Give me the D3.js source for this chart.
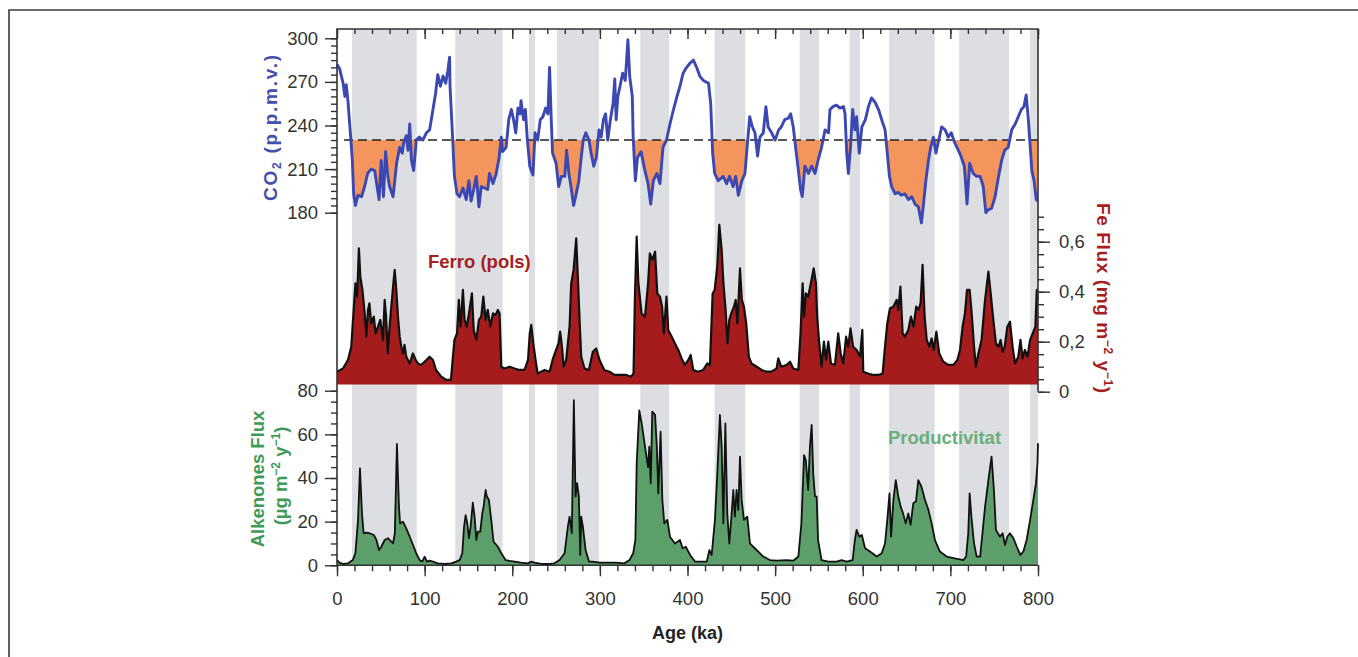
<!DOCTYPE html>
<html>
<head>
<meta charset="utf-8">
<script src="https://cdn.jsdelivr.net/npm/d3@7"></script>
<style>
  html, body { margin: 0; padding: 0; background: #fff; }
  svg { display: block; font-family: "Liberation Sans", Arial, Helvetica, sans-serif; }
</style>
</head>
<body>
<div id="chart"></div>
<script>
// períodes glacials (ka) - franges grises
var glacialBands = [[17, 91], [135, 189], [219, 226], [251, 299], [346, 379], [431, 466],
                    [528, 550], [585, 597], [630, 682], [710, 767], [791, 800]];

// CO2 (p.p.m.v.) segons l'edat (ka)
var co2Data = [
  [0, 282], [3, 279], [7, 269], [9, 260], [10.6, 268], [12.5, 257], [15, 237], [17.5, 216], [19, 193],
  [21, 185], [24, 192], [28, 191], [31.5, 198], [35, 207], [39, 210], [43, 209], [45, 201], [48, 189],
  [50.5, 216], [53, 191], [55.5, 222], [58, 205], [60, 198], [64, 191], [68, 214], [71.5, 225],
  [74.5, 221], [76, 228], [79, 233], [81, 223], [83, 241], [85, 216], [87.5, 209], [90.5, 230],
  [94, 232], [98, 230], [102, 235], [105.7, 237], [109.5, 251], [112.5, 262], [115, 275], [118, 267],
  [121, 274], [124, 269], [126.6, 278], [128.5, 287], [129, 267], [131.5, 237], [134, 205], [137, 193],
  [140, 191], [143.7, 197], [147.5, 189], [150.5, 202], [153, 188], [156, 196], [159, 205], [162, 184],
  [164.6, 198], [168.4, 197], [172, 196], [174, 207], [178, 200], [181.7, 207], [185, 218], [187.5, 232],
  [189, 222], [193, 225], [196, 244], [199, 251], [201.5, 244], [204, 235], [206.5, 252], [209, 248],
  [210, 257], [213, 244], [215, 251], [217, 232], [220, 212], [223.6, 206], [226, 235], [229, 230],
  [232, 244], [235, 246], [238, 252], [240.7, 248], [242.6, 280], [244.5, 244], [246, 221], [250, 214],
  [253, 198], [256, 205], [260, 205], [262, 223], [264.6, 207], [267, 198], [270, 185], [273, 193],
  [276, 202], [278.7, 218], [281, 230], [284, 235], [287.5, 230], [290, 221], [293, 212], [296, 218],
  [299, 237], [301.5, 232], [304, 244], [306.5, 248], [309, 230], [312, 244], [315, 255], [317, 272],
  [318.6, 244], [320.5, 260], [323, 267], [326, 276], [329, 271], [332, 299], [334, 274], [337, 260],
  [338, 232], [340.5, 202], [343, 218], [347, 222], [351, 210], [355, 200], [358, 186], [361, 202],
  [365, 207], [368.6, 200], [372, 225], [376, 230], [380, 241], [384, 251], [388, 260], [391.4, 267],
  [395, 276], [399, 280], [403, 283], [406.7, 285], [410.4, 280], [414, 274], [418, 271], [424, 269],
  [426.5, 255], [428.7, 221], [431, 207], [435, 202], [440.8, 205], [444.6, 200], [448, 205], [452, 198],
  [455, 205], [458, 192], [462, 202], [465.6, 207], [468, 225], [471, 246], [474, 239], [477, 235],
  [480, 219], [482.7, 232], [486.5, 235], [489.5, 253], [492, 239], [496, 235], [500, 230], [504, 237],
  [507, 239], [511, 244], [515, 245], [517.7, 248], [520.7, 239], [523.7, 223], [526, 212], [529, 196],
  [531, 191], [534, 212], [538, 207], [541.7, 212], [545.5, 207], [549, 216], [553, 225], [557, 237],
  [561, 235], [562.6, 251], [566, 253], [570, 254], [574, 252], [578, 253], [579.8, 248], [581.7, 221],
  [583.6, 207], [586, 225], [588.5, 251], [591, 237], [593, 246], [596, 221], [599, 239], [603, 244],
  [606.5, 253], [610, 259], [614, 256], [618, 251], [621.6, 244], [625.5, 237], [628, 221], [630.5, 205],
  [633, 198], [637, 193], [640.5, 194], [644, 192], [648, 193], [652, 189], [656, 191], [659.6, 186],
  [663.5, 184], [667, 173], [669, 184], [672, 202], [675, 216], [677.5, 225], [680.6, 232], [683.5, 221],
  [686, 228], [690, 239], [694, 237], [697.5, 232], [701, 235], [705, 228], [709, 223], [712, 219],
  [716, 212], [719, 186], [722, 214], [726, 207], [730, 205], [734, 205], [737.5, 198], [740.5, 180],
  [743, 182], [747, 183], [751, 191], [755, 205], [758.5, 216], [762, 223], [766, 225], [770, 237],
  [774, 241], [777.5, 246], [781, 251], [784, 253], [786.5, 261], [789, 244], [793, 209], [795.5, 202],
  [798, 189], [799.5, 188]
];
var co2Threshold = 230;

// flux de ferro (mg m-2 y-1)
var feData = [
  [0, 0.08], [6.8, 0.093], [12.5, 0.127], [16.3, 0.18], [19, 0.327], [21, 0.433], [23, 0.38], [25, 0.573],
  [26.6, 0.46], [29, 0.407], [31.6, 0.313], [33.5, 0.22], [35.4, 0.327], [37, 0.353], [39, 0.273], [42, 0.3],
  [44, 0.233], [46.8, 0.26], [49.4, 0.287], [52.5, 0.207], [54.4, 0.367], [56, 0.3], [58, 0.153], [60, 0.26],
  [62, 0.34], [64, 0.42], [65.8, 0.487], [67.7, 0.407], [69.6, 0.3], [71.5, 0.22], [73.4, 0.18], [75.3, 0.153],
  [77, 0.187], [79, 0.14], [83, 0.113], [86.7, 0.153], [89.7, 0.127], [92.4, 0.113], [96, 0.107], [102, 0.127],
  [105.7, 0.14], [109.5, 0.127], [113, 0.087], [119, 0.06], [124.7, 0.047], [130, 0.047], [134, 0.207],
  [137, 0.233], [139, 0.367], [141, 0.26], [143.7, 0.407], [145.6, 0.287], [148, 0.26], [150.6, 0.313],
  [154, 0.393], [156, 0.247], [159, 0.207], [162, 0.287], [164.6, 0.3], [167, 0.38], [169.6, 0.287],
  [172, 0.327], [175, 0.26], [178, 0.313], [181, 0.307], [183.6, 0.327], [185.5, 0.313], [187.5, 0.1],
  [191, 0.093], [197, 0.1], [202.7, 0.093], [208, 0.087], [214, 0.087], [218, 0.127], [220, 0.233],
  [221.7, 0.267], [224, 0.193], [226.6, 0.127], [229, 0.073], [233, 0.08], [237, 0.087], [242.6, 0.08],
  [246, 0.127], [250, 0.167], [252.8, 0.193], [254.7, 0.24], [256.7, 0.18], [258.6, 0.1], [261.6, 0.127],
  [265.4, 0.26], [267.3, 0.433], [270, 0.487], [273, 0.613], [275, 0.447], [277, 0.273], [278.7, 0.14],
  [282.5, 0.093], [287.5, 0.087], [292, 0.16], [295.8, 0.173], [299.6, 0.127], [305, 0.087], [311, 0.08],
  [316.7, 0.067], [322.4, 0.067], [330, 0.067], [335.7, 0.06], [338.4, 0.073], [340, 0.38], [342, 0.62],
  [344, 0.433], [347.6, 0.313], [351.5, 0.3], [355, 0.433], [357, 0.553], [360, 0.527], [363, 0.56],
  [365.5, 0.393], [368.6, 0.38], [371, 0.34], [373, 0.233], [376, 0.38], [378, 0.247], [382, 0.22],
  [385.7, 0.193], [389.5, 0.167], [393.3, 0.133], [397, 0.107], [401, 0.127], [403.6, 0.147], [406.6, 0.087],
  [412, 0.08], [418, 0.087], [422.6, 0.113], [425.6, 0.107], [428.7, 0.393], [431, 0.407], [434, 0.5],
  [436.3, 0.667], [439, 0.567], [441, 0.433], [443.5, 0.327], [445.6, 0.193], [447.7, 0.287], [450, 0.313],
  [453, 0.34], [455, 0.367], [457, 0.273], [459.9, 0.493], [462, 0.367], [464.4, 0.34], [467, 0.273],
  [470, 0.14], [473, 0.113], [479, 0.1], [484.6, 0.087], [490, 0.08], [496, 0.08], [501.7, 0.093],
  [503.6, 0.133], [507, 0.1], [513, 0.107], [517, 0.12], [520.7, 0.093], [526.5, 0.087], [529, 0.233],
  [531.4, 0.433], [533, 0.3], [535, 0.393], [537.7, 0.38], [541.5, 0.447], [544, 0.493], [546.6, 0.433],
  [548, 0.3], [550, 0.207], [553, 0.1], [555.7, 0.2], [558, 0.127], [560.7, 0.2], [563.7, 0.113],
  [568.3, 0.107], [572, 0.233], [574.8, 0.153], [577.8, 0.113], [581, 0.22], [583.5, 0.18], [586, 0.253],
  [589, 0.18], [593, 0.167], [597, 0.14], [599.5, 0.247], [600.6, 0.08], [606, 0.073], [612, 0.067],
  [617.7, 0.067], [622.7, 0.073], [625.4, 0.18], [628, 0.273], [631, 0.333], [634.8, 0.34], [638.7, 0.367],
  [640.6, 0.327], [643, 0.42], [645.5, 0.233], [648, 0.22], [652, 0.247], [655, 0.3], [658, 0.26],
  [661, 0.34], [663.7, 0.327], [666, 0.353], [668.3, 0.507], [670.6, 0.3], [673, 0.207], [676, 0.18],
  [678.6, 0.213], [681, 0.167], [684, 0.24], [687.3, 0.153], [691.9, 0.12], [697.6, 0.107], [703.3, 0.107],
  [708, 0.127], [711, 0.167], [714, 0.26], [716.6, 0.313], [719, 0.407], [722, 0.407], [724, 0.327],
  [727, 0.18], [729, 0.1], [732, 0.153], [735.6, 0.207], [739.6, 0.367], [743.4, 0.48], [746, 0.393],
  [749, 0.287], [752, 0.193], [755, 0.18], [757.3, 0.207], [759.6, 0.16], [762, 0.18], [765, 0.26],
  [768, 0.28], [771, 0.18], [773.8, 0.113], [777.5, 0.14], [780, 0.207], [782.4, 0.133], [785, 0.167],
  [788, 0.14], [791, 0.207], [794, 0.233], [797, 0.26], [798.6, 0.407], [800, 0.367]
];

// flux d'alquenones (ug m-2 y-1)
var alkData = [
  [0, 2.4], [3, 1.2], [7, 0.6], [12.5, 0.9], [18, 2.4], [21, 5.5], [24, 20.8], [26.2, 44.4], [28.5, 23.8],
  [30.4, 14.7], [33.5, 15], [37, 14.7], [42, 13.9], [45, 11.6], [48, 7], [50.6, 8.5], [54.4, 11.6],
  [58, 12.4], [62, 10.8], [64, 10], [66, 14.7], [68.4, 55.6], [70.7, 26.9], [72, 19.2], [75.3, 20],
  [79, 16.9], [83, 13.1], [86.7, 9.3], [90.5, 5.5], [94.3, 2.4], [97.3, 1.7], [100, 4], [102.7, 1.7],
  [105.7, 2.1], [109.5, 1.7], [115, 0.9], [122.8, 0.6], [130.4, 0.9], [136, 1.7], [140, 2.4], [143, 5.5],
  [145, 17.7], [146.8, 23], [148.7, 19.2], [150.6, 12.4], [152.5, 17.7], [155, 28.7], [157, 22.3],
  [159, 11.6], [160.8, 15.4], [163.5, 15.4], [165.8, 23.8], [167.3, 26.9], [169.6, 34.5], [171, 31.5],
  [173.4, 29.9], [176, 20.8], [178.7, 10.8], [183.6, 8.5], [187.5, 5.5], [192.4, 2.4], [197, 2],
  [202.7, 1.7], [210, 1.2], [218, 0.9], [221.7, 1.7], [225.5, 1.2], [233, 0.6], [242.6, 0.6], [248, 0.9],
  [254, 2.4], [259.7, 5.5], [263.5, 17.7], [265.4, 22.3], [268, 14.7], [270.3, 75.7], [272.2, 31.5],
  [274, 37.6], [276, 31.5], [277.6, 4.7], [278.7, 22.3], [280.6, 17.7], [283.7, 7], [287.5, 1.7],
  [292, 1.7], [299.6, 1.2], [309, 1.2], [318.6, 1.2], [328, 0.9], [333.8, 2.4], [338, 5.5], [340.5, 11.6],
  [342, 46.7], [345, 71], [347.7, 65], [351.5, 54.4], [355, 45], [356.4, 54.4], [358, 37.6], [359.8, 70.4],
  [363, 68.9], [365, 54.4], [366.7, 33], [369.3, 61.2], [371.3, 30], [373.5, 19.2], [377, 20.8],
  [380, 13.1], [385.7, 10], [391.4, 11.6], [394.4, 7.8], [398, 8.5], [403, 4.7], [408.5, 1.7], [416, 1.7],
  [422, 1.7], [425, 7], [427.6, 4.7], [431.3, 20.8], [434, 42], [437, 68.9], [439, 54.4], [440.9, 19.2],
  [443.2, 65], [445.4, 23.8], [447.7, 10], [450.4, 23.8], [452.3, 34.5], [454, 22.3], [456, 34.5],
  [458, 25.3], [459.9, 49.8], [461.8, 30], [464.4, 20.8], [468.2, 22.3], [471.3, 10], [475, 8.5],
  [480.8, 6.3], [486.5, 4], [494, 2.4], [501.7, 2.1], [513, 2.4], [520.7, 2.1], [526.5, 4], [530, 19.2],
  [533, 50.5], [535, 48.2], [537.7, 34.5], [539.7, 54.4], [541.7, 64.3], [543.5, 42], [545.5, 31.5],
  [547.4, 31.5], [549, 11.6], [553, 2.4], [560.7, 1.7], [570, 1.7], [575.9, 2.4], [581.6, 1.7],
  [588.5, 2.4], [591, 11.6], [593, 16.2], [596, 13.1], [599, 13.9], [602.6, 7.8], [608.3, 6.3], [616, 4],
  [621.6, 5.5], [625.4, 10], [628, 20.8], [630.5, 33], [632.3, 13.1], [635, 30], [637.7, 39], [640.6, 31.5],
  [643.3, 26.9], [646, 23.8], [649, 19.2], [652, 23.8], [654.6, 18.5], [657.7, 28.4], [660.7, 29.2],
  [663.4, 39], [667, 36], [671, 30], [675, 25.3], [678.6, 19.2], [682.4, 11.6], [688, 6.3], [695.7, 4],
  [705, 3.2], [714.8, 2.4], [718, 4], [720.4, 14.7], [722, 33], [724, 22.3], [727, 10], [730, 4], [734, 4],
  [739.6, 26.9], [743.4, 39], [747, 49.8], [749.7, 34.5], [752, 16.2], [756.6, 13.1], [759.6, 14.7],
  [762.3, 9.3], [765, 13.1], [768, 14.7], [772, 12.4], [775.8, 8.5], [780, 4.7], [783.3, 6.3], [787, 11.6],
  [791, 20.8], [794.7, 30], [797.7, 37.6], [799.4, 46.7], [800, 55.9]
];

// valors dels eixos
var ageTicks = [0, 100, 200, 300, 400, 500, 600, 700, 800];
var co2Ticks = [180, 210, 240, 270, 300];
var feTicks = [0, 0.2, 0.4, 0.6];
var alkTicks = [0, 20, 40, 60, 80];

var width = 1358, height = 657;
var FONT_COLOR = '#333';

var svg = d3.select('#chart')
            .append('svg')
            .attr('width', width)
            .attr('height', height)
            .attr('viewBox', '0 0 ' + width + ' ' + height);

// marc de la pàgina
svg.append('path')
   .attr('d', 'M9,' + height + 'V10H' + width)
   .attr('fill', 'none')
   .attr('stroke', '#3a3a3a')
   .attr('stroke-width', 1.6);

// escales
var plotLeft = 337, plotRight = 1038, plotTop = 29, plotBottom = 565.3;
var x = d3.scaleLinear().domain([0, 800]).range([plotLeft, plotRight]);
var yCO2 = d3.scaleLinear().domain([180, 300]).range([212.7, 38.3]);
var yFe = d3.scaleLinear().domain([0, 0.7]).range([391.7, 216.7]);
var yAlk = d3.scaleLinear().domain([0, 80]).range([plotBottom, 390.7]);
var feBase = 384.5;

// franges glacials
svg.append('g')
   .selectAll('rect')
   .data(glacialBands)
   .enter()
   .append('rect')
   .attr('x', function(d){ return x(d[0]); })
   .attr('width', function(d){ return x(d[1]) - x(d[0]); })
   .attr('y', plotTop)
   .attr('height', plotBottom - plotTop)
   .attr('fill', '#dcdee1');

// CO2: ombrejat taronja per sota del llindar
svg.append('clipPath')
   .attr('id', 'below-threshold')
   .append('rect')
   .attr('x', plotLeft)
   .attr('y', yCO2(co2Threshold))
   .attr('width', plotRight - plotLeft)
   .attr('height', 100);

svg.append('path')
   .datum(co2Data)
   .attr('clip-path', 'url(#below-threshold)')
   .attr('fill', '#f5955e')
   .attr('d', d3.area()
                .x(function(d){ return x(d[0]); })
                .y0(yCO2(co2Threshold))
                .y1(function(d){ return yCO2(d[1]); }));

svg.append('line')
   .attr('x1', x(8)).attr('x2', x(800))
   .attr('y1', yCO2(co2Threshold)).attr('y2', yCO2(co2Threshold))
   .attr('stroke', '#222')
   .attr('stroke-width', 1.5)
   .attr('stroke-dasharray', '9,5');

svg.append('path')
   .datum(co2Data)
   .attr('fill', 'none')
   .attr('stroke', '#3c48b2')
   .attr('stroke-width', 2.9)
   .attr('stroke-linejoin', 'round')
   .attr('d', d3.line()
                .x(function(d){ return x(d[0]); })
                .y(function(d){ return yCO2(d[1]); }));

// ferro
svg.append('path')
   .datum(feData)
   .attr('fill', '#a61c1c')
   .attr('d', d3.area()
                .x(function(d){ return x(d[0]); })
                .y0(feBase)
                .y1(function(d){ return yFe(d[1]); }));

svg.append('path')
   .datum(feData)
   .attr('fill', 'none')
   .attr('stroke', '#111')
   .attr('stroke-width', 2.2)
   .attr('stroke-linejoin', 'round')
   .attr('d', d3.line()
                .x(function(d){ return x(d[0]); })
                .y(function(d){ return yFe(d[1]); }));

// alquenones
svg.append('path')
   .datum(alkData)
   .attr('fill', '#5c9f6a')
   .attr('d', d3.area()
                .x(function(d){ return x(d[0]); })
                .y0(plotBottom)
                .y1(function(d){ return yAlk(d[1]); }));

svg.append('path')
   .datum(alkData)
   .attr('fill', 'none')
   .attr('stroke', '#111')
   .attr('stroke-width', 1.8)
   .attr('stroke-linejoin', 'round')
   .attr('d', d3.line()
                .x(function(d){ return x(d[0]); })
                .y(function(d){ return yAlk(d[1]); }));

// eixos
function styleAxis(g, fontSize){
    g.select('.domain').remove();
    g.selectAll('line').attr('stroke', '#333').attr('stroke-width', 1.4);
    g.selectAll('text').attr('fill', FONT_COLOR).style('font-size', fontSize + 'px').attr('font-family', null);
}

function minor(lo, hi, step){
    return d3.range(lo, hi + step / 2, step);
}

// eix inferior
svg.append('g').attr('transform', 'translate(0,' + plotBottom + ')')
   .call(d3.axisBottom(x).tickValues(minor(0, 800, 20)).tickSize(6).tickFormat(''))
   .call(styleAxis, 18);
svg.append('g').attr('transform', 'translate(0,' + plotBottom + ')')
   .call(d3.axisBottom(x).tickValues(ageTicks).tickSize(11).tickPadding(16).tickFormat(d3.format('d')))
   .call(styleAxis, 18.5);

// eix superior (marques cap endins)
svg.append('g').attr('transform', 'translate(0,' + plotTop + ')')
   .call(d3.axisBottom(x).tickValues(minor(0, 800, 20)).tickSize(5).tickFormat(''))
   .call(styleAxis, 18);
svg.append('g').attr('transform', 'translate(0,' + plotTop + ')')
   .call(d3.axisBottom(x).tickValues(ageTicks).tickSize(10).tickFormat(''))
   .call(styleAxis, 18);

// eix CO2
svg.append('g').attr('transform', 'translate(' + plotLeft + ',0)')
   .call(d3.axisLeft(yCO2).tickValues(minor(180, 300, 5)).tickSize(6).tickFormat(''))
   .call(styleAxis, 18);
svg.append('g').attr('transform', 'translate(' + plotLeft + ',0)')
   .call(d3.axisLeft(yCO2).tickValues(co2Ticks).tickSize(12).tickPadding(7).tickFormat(d3.format('d')))
   .call(styleAxis, 18.5);

// eix alquenones
svg.append('g').attr('transform', 'translate(' + plotLeft + ',0)')
   .call(d3.axisLeft(yAlk).tickValues(minor(0, 80, 5)).tickSize(6).tickFormat(''))
   .call(styleAxis, 18);
svg.append('g').attr('transform', 'translate(' + plotLeft + ',0)')
   .call(d3.axisLeft(yAlk).tickValues(alkTicks).tickSize(12).tickPadding(7).tickFormat(d3.format('d')))
   .call(styleAxis, 18.5);

// eix ferro (dreta)
svg.append('g').attr('transform', 'translate(' + plotRight + ',0)')
   .call(d3.axisRight(yFe).tickValues(minor(0, 0.7, 0.05)).tickSize(6).tickFormat(''))
   .call(styleAxis, 18);
svg.append('g').attr('transform', 'translate(' + plotRight + ',0)')
   .call(d3.axisRight(yFe).tickValues(feTicks).tickSize(12).tickPadding(9)
            .tickFormat(function(d){ return d === 0 ? '0' : d3.format('.1f')(d).replace('.', ','); }))
   .call(styleAxis, 18.5);

// línies del marc
svg.append('path')
   .attr('d', 'M' + plotLeft + ',' + plotBottom + 'V' + plotTop + 'H' + plotRight + 'V' + yFe(0))
   .attr('fill', 'none')
   .attr('stroke', '#333')
   .attr('stroke-width', 1.6);
svg.append('line')
   .attr('x1', plotLeft).attr('x2', plotRight)
   .attr('y1', plotBottom).attr('y2', plotBottom)
   .attr('stroke', '#333')
   .attr('stroke-width', 1.6);

// títols dels eixos
var co2Label = svg.append('text')
   .attr('transform', 'translate(270,128) rotate(-90)')
   .attr('text-anchor', 'middle')
   .attr('dy', '0.35em')
   .attr('fill', '#4350ad')
   .attr('textLength', 146)
   .attr('lengthAdjust', 'spacing')
   .style('font-size', '19px')
   .style('font-weight', 'bold');
co2Label.append('tspan').text('CO');
co2Label.append('tspan').attr('dy', '4').style('font-size', '12px').text('2');
co2Label.append('tspan').attr('dy', '-4').text(' (p.p.m.v.)');

var feLabel = svg.append('text')
   .attr('transform', 'translate(1104,298) rotate(90)')
   .attr('text-anchor', 'middle')
   .attr('dy', '0.35em')
   .attr('fill', '#a51e22')
   .attr('textLength', 190)
   .attr('lengthAdjust', 'spacing')
   .style('font-size', '19px')
   .style('font-weight', 'bold');
feLabel.append('tspan').text('Fe Flux (mg m');
feLabel.append('tspan').attr('dy', '-7').style('font-size', '12px').text('\u22122');
feLabel.append('tspan').attr('dy', '7').text(' y');
feLabel.append('tspan').attr('dy', '-7').style('font-size', '12px').text('\u22121');
feLabel.append('tspan').attr('dy', '7').text(')');

svg.append('text')
   .attr('transform', 'translate(258,479) rotate(-90)')
   .attr('text-anchor', 'middle')
   .attr('dy', '0.35em')
   .attr('fill', '#3f9a57')
   .style('font-size', '18.5px')
   .style('font-weight', 'bold')
   .text('Alkenones Flux');

var alkUnits = svg.append('text')
   .attr('transform', 'translate(281,476) rotate(-90)')
   .attr('text-anchor', 'middle')
   .attr('dy', '0.35em')
   .attr('fill', '#3f9a57')
   .style('font-size', '18.5px')
   .style('font-weight', 'bold');
alkUnits.append('tspan').text('(\u00b5g m');
alkUnits.append('tspan').attr('dy', '-7').style('font-size', '12px').text('\u22122');
alkUnits.append('tspan').attr('dy', '7').text(' y');
alkUnits.append('tspan').attr('dy', '-7').style('font-size', '12px').text('\u22121');
alkUnits.append('tspan').attr('dy', '7').text(')');

svg.append('text')
   .attr('x', (plotLeft + plotRight) / 2)
   .attr('y', 639)
   .attr('text-anchor', 'middle')
   .attr('fill', '#222')
   .style('font-size', '18px')
   .style('font-weight', 'bold')
   .text('Age (ka)');

// etiquetes de sèrie
svg.append('text')
   .attr('x', 428).attr('y', 268)
   .attr('fill', '#a51e22')
   .style('font-size', '18.5px')
   .style('font-weight', 'bold')
   .text('Ferro (pols)');

svg.append('text')
   .attr('x', 888).attr('y', 444)
   .attr('fill', '#6aae7b')
   .style('font-size', '18.5px')
   .style('font-weight', 'bold')
   .text('Productivitat');
</script>
</body>
</html>
